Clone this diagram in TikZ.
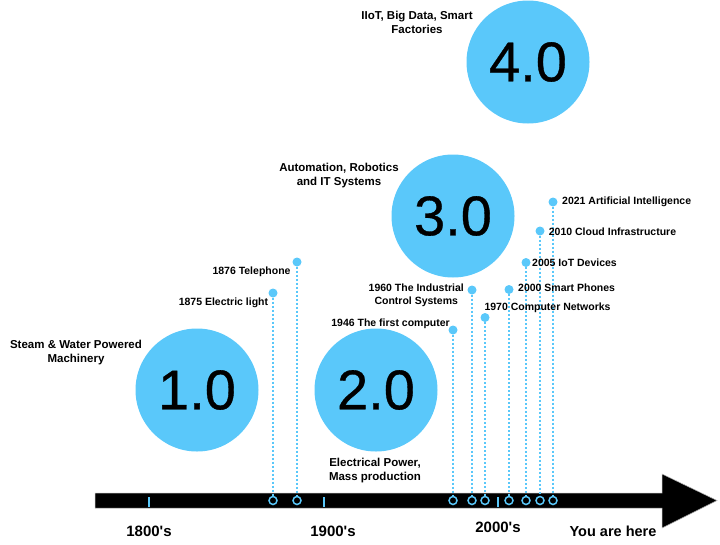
\documentclass[tikz,border=0pt]{standalone}
\usepackage{fontspec}
\setmainfont{Liberation Sans}
\newfontfamily\stagefont[FakeBold=0.6]{Liberation Sans}
\usepackage{xcolor}
\usepackage{tikz}
\usetikzlibrary{calc,positioning}
\definecolor{stageblue}{HTML}{5AC8FA}
\definecolor{barblack}{HTML}{000000}
\tikzset{
  stage/.style={circle, fill=stageblue, minimum size=123pt, inner sep=0pt,
    font=\stagefont\fontsize{56}{56}\selectfont},
  stagetitle/.style={align=center, inner sep=0pt,
    font=\bfseries\fontsize{11.5}{14}\selectfont},
  evlabel/.style={align=center, inner sep=0pt,
    font=\bfseries\fontsize{10.5}{12.7}\selectfont},
  eradate/.style={inner sep=0pt, font=\bfseries\fontsize{15}{15}\selectfont},
  evdot/.style={circle, fill=stageblue, minimum size=9pt, inner sep=0pt},
  evring/.style={circle, draw=stageblue, fill=barblack, line width=1.5pt,
    minimum size=8pt, inner sep=0pt},
  evline/.style={stageblue, line width=2pt, dash pattern=on 2pt off 2pt},
  tick/.style={stageblue, line width=2pt}
}

\begin{document}
\begin{tikzpicture}[x=1pt, y=1pt]
  \useasboundingbox (0,0) rectangle (720,-544);

  % height of the time line
  \def\barY{-500.5}

  % time line
  \fill[barblack, draw=gray!60, line width=0.5pt]
    (95,-493) -- (662,-493) -- (662,-474) -- (717,\barY)
    -- (662,-528) -- (662,-508) -- (95,-508) -- cycle;

  % century ticks
  \foreach \x in {149, 324, 498}{
    \draw[tick] (\x,-497) -- (\x,-507);
  }

  % the four stages
  \node[stage] (s1) at (197,-390) {1.0};
  \node[stage] (s2) at (376,-390) {2.0};
  \node[stage] (s3) at (453,-216) {3.0};
  \node[stage] (s4) at (528,-62) {4.0};

  \node[stagetitle] (t1) at (76,-352.5) {Steam \& Water Powered\\Machinery};
  \node[stagetitle] (t2) at (375,-470.5) {Electrical Power,\\Mass production};
  \node[stagetitle] (t3) at (339,-175.5) {Automation, Robotics\\and IT Systems};
  \node[stagetitle] (t4) at (417,-22.5) {IIoT, Big Data, Smart\\Factories};

  % events on the time line
  \foreach \i/\x/\y in {
    1/273/-293,
    2/297/-262,
    3/453/-330,
    4/472/-290,
    5/485/-317.5,
    6/509/-289.5,
    7/526/-262.5,
    8/540/-231,
    9/553/-202
  }{
    \node[evring] (r\i) at (\x,\barY) {};
    \node[evdot] (d\i) at (\x,\y) {};
    \draw[evline] (d\i) -- (r\i);
  }

  % event labels
  \node[evlabel, anchor=east] (l1) at (268.3,-303) {1875 Electric light};
  \node[evlabel, anchor=east] (l2) at (290.7,-272) {1876 Telephone};
  \node[evlabel, anchor=east] (l3) at (450,-323.3) {1946 The first computer};
  \node[evlabel, anchor=east] (l4) at (464,-295.4) {1960 The Industrial\\Control Systems};
  \node[evlabel, anchor=west] (l5) at (484.3,-307.3) {1970 Computer Networks};
  \node[evlabel, anchor=west] (l6) at (518,-287.5) {2000 Smart Phones};
  \node[evlabel, anchor=west] (l7) at (532,-263) {2005 IoT Devices};
  \node[evlabel, anchor=west] (l8) at (548.7,-232) {2010 Cloud Infrastructure};
  \node[evlabel, anchor=west] (l9) at (562,-201.5) {2021 Artificial Intelligence};

  % eras
  \node[eradate] (e1) at (149,-531.5) {1800\textquotesingle s};
  \node[eradate] (e2) at (333,-531) {1900\textquotesingle s};
  \node[eradate] (e3) at (498,-527) {2000\textquotesingle s};
  \node[eradate, font=\bfseries\fontsize{14.5}{14.5}\selectfont] (e4) at (613,-531.5) {You are here};

\end{tikzpicture}
\end{document}
